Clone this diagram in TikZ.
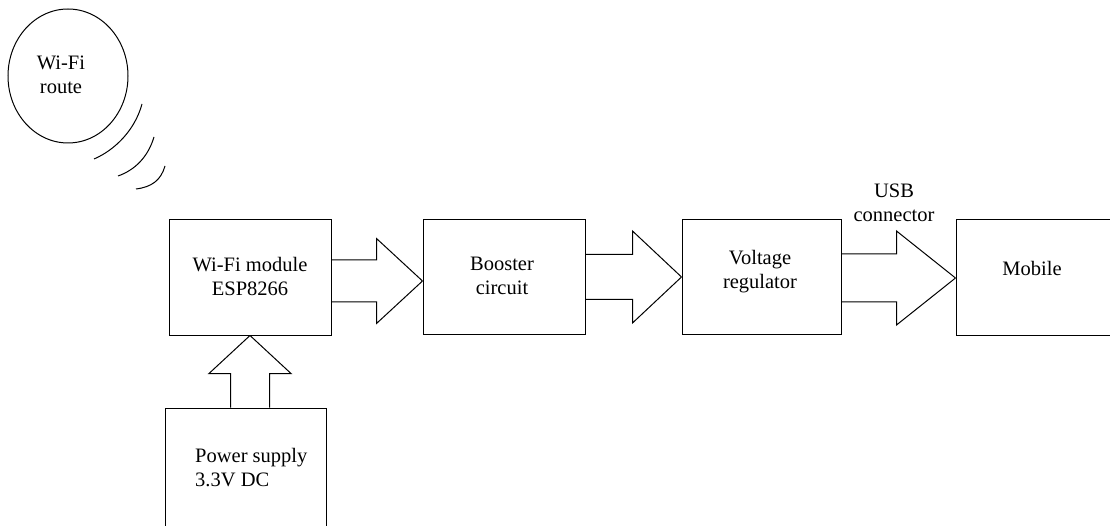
\documentclass[tikz,border=0pt]{standalone}
\usepackage{fontspec}
\setmainfont{Liberation Serif}
\usetikzlibrary{shapes.geometric,calc}
\tikzset{
  box/.style={draw, rectangle, inner sep=0pt, line width=1pt},
  lbl/.style={inner sep=0pt, align=center, font=\fontsize{20.5}{24}\selectfont},
  wave/.style={line width=1pt},
}
\newcommand\blockarr[5]{%
  \draw[line width=1pt, line join=miter] (#2) -- ++(-#3pt,#4pt) -- ++(0pt,#5pt-#4pt) coordinate (ba1) -- (ba1 -| #1.east)
    (#2) -- ++(-#3pt,-#4pt) -- ++(0pt,#4pt-#5pt) coordinate (ba2) -- (ba2 -| #1.east);
}
\begin{document}
\begin{tikzpicture}[x=1pt,y=-1pt]
\useasboundingbox (0,0) rectangle (1110,526);
% router
\node[draw, ellipse, line width=1pt, minimum width=120pt, minimum height=134pt, inner sep=0pt] (router) at (68,76) {};
\node[lbl] (rtext) at (61,75) {Wi-Fi\\route};
\draw[wave] (142,104) .. controls (135,130) and (115,150) .. (94,159);
\draw[wave] (154,137) .. controls (148,157) and (135,170) .. (118,176);
\draw[wave] (165,166) .. controls (161,180) and (152,187) .. (136,189);
% boxes
\node[box, minimum width=162pt, minimum height=115pt] (wifi) at (250,277.5) {};
\node[lbl] (wifitext) at (250,276) {Wi-Fi module\\ESP8266};
\node[box, minimum width=162pt, minimum height=114pt] (booster) at (504,277) {};
\node[lbl] (btext) at (502,275.5) {Booster\\circuit};
\node[box, minimum width=159pt, minimum height=114pt] (volt) at (761.5,277) {};
\node[lbl] (vtext) at (760,271.5) {Voltage\\regulator};
\node[box, minimum width=164pt, minimum height=115pt] (mobile) at (1038,277.5) {};
\node[lbl] (mtext) at (1032,268) {Mobile};
\node[box, minimum width=161pt, minimum height=132pt] (power) at (245.5,474) {};
\node[lbl, align=left, anchor=west] (ptext) at (195,467.5) {Power supply\\3.3V DC};
\node[lbl] (usb) at (894,202.5) {USB\\connector};
% block arrows
\coordinate (t1) at ([yshift=-4pt]booster.west);
\blockarr{wifi}{t1}{46}{42.5}{21}
\blockarr{booster}{volt.west}{49}{46}{22.5}
\coordinate (t3) at ([yshift=-0.5pt]mobile.west);
\blockarr{volt}{t3}{59}{47}{24}
% up arrow
\draw[line width=1pt] (wifi.south) -- ++(-41pt,-38pt) -- ++(21.5pt,0pt) coordinate (c1) -- (c1 |- power.north)
  (wifi.south) -- ++(41pt,-38pt) -- ++(-21.5pt,0pt) coordinate (c2) -- (c2 |- power.north);
\end{tikzpicture}
\end{document}
